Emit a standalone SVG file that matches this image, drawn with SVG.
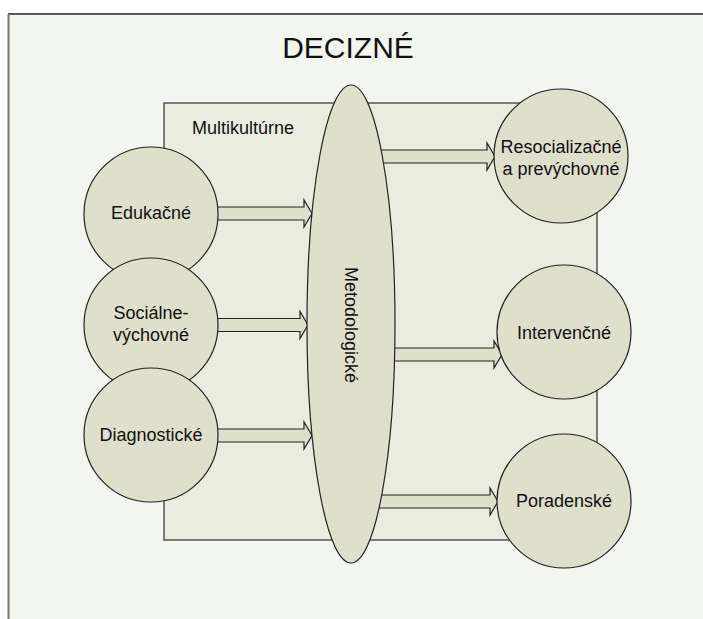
<svg xmlns="http://www.w3.org/2000/svg" width="703" height="619" viewBox="0 0 703 619">
<style>
  text { font-family: "Liberation Sans", Arial, sans-serif; fill: #111; }
  .node { fill: #dfe0cb; stroke: #222; stroke-width: 1.2; }
  .arrow { fill: #dfe0cb; stroke: #222; stroke-width: 1.2; stroke-linejoin: miter; }
  .lbl { font-size: 18px; text-anchor: middle; }
</style>
<rect x="0" y="0" width="703" height="619" fill="#ffffff"/>
<rect x="8" y="14" width="700" height="610" fill="#f3f5ef"/>
<line x1="8" y1="14" x2="703" y2="14" stroke="#222" stroke-width="1.5"/>
<line x1="8.5" y1="14" x2="8.5" y2="619" stroke="#777" stroke-width="2"/>
<text x="348" y="58" font-size="30" text-anchor="middle">DECIZNÉ</text>

<g id="multikulturne">
  <rect x="164" y="103" width="433" height="437" fill="#eaecdf" stroke="#555" stroke-width="1.5"/>
  <text x="192" y="134" font-size="18">Multikultúrne</text>
</g>

<g id="connectors">
  <polygon class="arrow" points="215,207 304,207 304,200 312,213.5 304,227 304,220 215,220"/>
  <polygon class="arrow" points="215,318.5 300,318.5 300,311.5 308,325 300,338.5 300,331.5 215,331.5"/>
  <polygon class="arrow" points="215,429 304,429 304,422 312,435.5 304,449 304,442 215,442"/>
  <polygon class="arrow" points="380,150 487,150 487,143 495,156.5 487,170 487,163 380,163"/>
  <polygon class="arrow" points="392,348 494,348 494,341 502,354.5 494,368 494,361 392,361"/>
  <polygon class="arrow" points="378,495 490,495 490,488 498,501.5 490,515 490,508 378,508"/>
</g>

<g id="metodologicke">
  <ellipse class="node" cx="351" cy="324" rx="44" ry="239"/>
  <text class="lbl" transform="translate(351,325) rotate(90)" x="0" y="6">Metodologické</text>
</g>

<g id="edukacne">
  <circle class="node" cx="151" cy="214" r="67"/>
  <text class="lbl" x="151" y="219">Edukačné</text>
</g>
<g id="socialne">
  <circle class="node" cx="151" cy="325" r="67"/>
  <text class="lbl" x="151" y="319">Sociálne-</text>
  <text class="lbl" x="151" y="341">výchovné</text>
</g>
<g id="diagnosticke">
  <circle class="node" cx="151" cy="435" r="67"/>
  <text class="lbl" x="151" y="441">Diagnostické</text>
</g>

<g id="resocializacne">
  <circle class="node" cx="561" cy="156" r="67"/>
  <text class="lbl" x="561" y="153">Resocializačné</text>
  <text class="lbl" x="561" y="175">a prevýchovné</text>
</g>
<g id="intervencne">
  <circle class="node" cx="564" cy="332" r="67"/>
  <text class="lbl" x="564" y="339">Intervenčné</text>
</g>
<g id="poradenske">
  <circle class="node" cx="564" cy="501" r="67"/>
  <text class="lbl" x="564" y="507">Poradenské</text>
</g>
</svg>
